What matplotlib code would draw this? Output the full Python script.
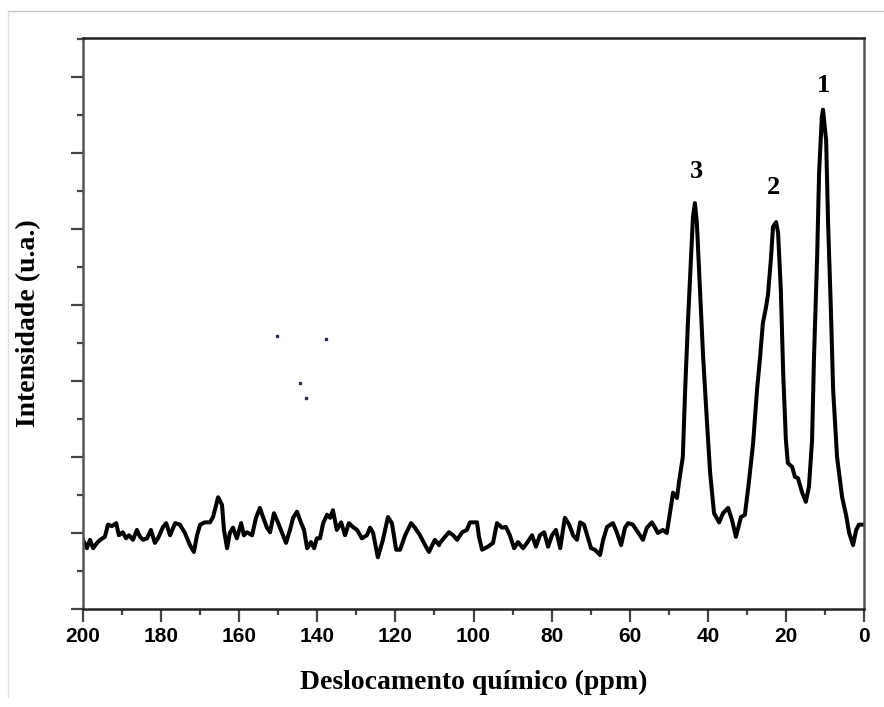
import numpy as np
import matplotlib
matplotlib.use("Agg")
import matplotlib.pyplot as plt
from matplotlib.lines import Line2D
from matplotlib.ticker import MultipleLocator

# chemical shift (ppm) and intensity (a.u.)
shift = [200.0, 199.0, 198.2, 197.4, 196.4, 195.6, 194.4, 193.6, 192.6, 191.5,
         190.8, 189.8, 189.0, 188.2, 187.2, 186.2, 185.4, 184.6, 183.6, 182.6,
         181.6, 180.8, 179.5, 178.7, 177.7, 176.4, 175.2, 173.9, 172.6, 171.6,
         170.8, 170.0, 168.8, 167.5, 166.7, 165.4, 164.4, 163.9, 163.1, 162.4,
         161.6, 160.6, 159.5, 158.8, 158.0, 156.7, 155.7, 154.7, 153.9, 152.9,
         152.1, 151.1, 150.1, 149.0, 148.0, 147.0, 146.2, 145.2, 144.2, 143.4,
         142.6, 141.6, 140.8, 140.1, 139.3, 138.5, 137.5, 136.7, 136.0, 135.0,
         133.9, 132.9, 131.9, 130.9, 129.8, 128.6, 127.3, 126.5, 125.7, 124.5,
         123.2, 121.9, 120.9, 119.8, 118.8, 117.5, 116.0, 115.0, 113.7, 112.4,
         111.4, 109.9, 108.8, 108.6, 107.3, 106.3, 105.2, 104.2, 102.9, 101.7,
         100.9, 99.1, 98.6, 97.8, 96.3, 95.0, 94.0, 92.7, 91.7, 90.7,
         89.6, 88.6, 87.3, 86.3, 85.0, 84.0, 83.0, 81.9, 80.9, 79.9,
         78.9, 78.1, 77.8, 76.6, 75.5, 74.5, 73.5, 72.7, 71.7, 70.9,
         69.9, 68.9, 67.6, 66.8, 65.8, 64.3, 63.3, 62.2, 61.2, 60.4,
         59.2, 57.9, 56.6, 55.6, 54.3, 53.5, 52.8, 51.5, 50.5,
         49.7, 48.9, 47.9, 47.4, 46.4, 45.8, 45.1, 44.3, 43.8, 43.3,
         42.8, 42.0, 41.2, 40.2, 39.4, 38.4, 37.1, 36.1, 34.8, 33.8,
         32.8, 31.5, 30.5, 29.5, 28.4, 27.4, 26.6, 25.9, 25.1, 24.6,
         23.8, 23.3, 22.5, 22.0, 21.3, 20.7, 20.0, 19.5, 18.4, 17.7,
         16.9, 15.9, 14.9, 14.1, 13.3, 12.8, 12.0, 11.5, 10.8, 10.5,
         9.7, 9.2, 8.5, 7.9, 6.9, 5.6, 4.6, 3.8, 2.8, 2.0,
         1.3, 0.0]
intensity = [-0.09, -0.20, -0.09, -0.20, -0.13, -0.09, -0.05, 0.11, 0.09, 0.13,
             -0.03, 0.01, -0.07, -0.03, -0.09, 0.04, -0.05, -0.09, -0.07, 0.04,
             -0.13, -0.07, 0.08, 0.13, -0.03, 0.13, 0.11, 0.00, -0.16, -0.25,
             -0.03, 0.11, 0.14, 0.14, 0.21, 0.47, 0.37, 0.04, -0.20, 0.00,
             0.07, -0.07, 0.13, -0.03, 0.01, -0.03, 0.20, 0.33, 0.21, 0.07,
             0.01, 0.26, 0.14, 0.00, -0.13, 0.04, 0.20, 0.28, 0.14, 0.04,
             -0.20, -0.12, -0.20, -0.07, -0.07, 0.13, 0.24, 0.20, 0.30, 0.04,
             0.14, -0.03, 0.13, 0.08, 0.04, -0.07, -0.03, 0.07, 0.00, -0.32,
             -0.09, 0.21, 0.13, -0.22, -0.22, -0.03, 0.13, 0.07, -0.03, -0.16,
             -0.25, -0.09, -0.16, -0.13, -0.05, 0.01, -0.03, -0.09, 0.01, 0.04,
             0.14, 0.14, -0.05, -0.22, -0.18, -0.13, 0.13, 0.07, 0.08, -0.03,
             -0.20, -0.12, -0.20, -0.13, -0.03, -0.18, -0.03, 0.01, -0.18, -0.03,
             0.04, -0.13, -0.20, 0.20, 0.11, -0.03, -0.09, 0.14, 0.11, -0.03,
             -0.20, -0.22, -0.29, -0.09, 0.08, 0.13, 0.01, -0.16, 0.07, 0.13,
             0.11, 0.01, -0.09, 0.07, 0.14, 0.07, 0.00, 0.04, 0.00,
             0.26, 0.53, 0.46, 0.66, 1.00, 1.88, 2.76, 3.63, 4.16, 4.34,
             4.08, 3.20, 2.32, 1.45, 0.79, 0.26, 0.14, 0.26, 0.33, 0.17,
             -0.05, 0.21, 0.24, 0.66, 1.18, 1.88, 2.32, 2.76, 2.97, 3.13,
             3.63, 4.03, 4.09, 3.95, 3.20, 2.11, 1.22, 0.92, 0.87, 0.74,
             0.72, 0.54, 0.41, 0.61, 1.22, 2.32, 3.63, 4.74, 5.47, 5.57,
             5.17, 4.08, 2.97, 1.88, 1.00, 0.47, 0.24, 0.00, -0.16, 0.04,
             0.11, 0.11]

# peak numbers and where they sit
peak_labels = ["1", "2", "3"]
peak_x = [10.25, 23.05, 43.0]
peak_y = [5.89, 4.55, 4.76]

# stray specks in the original image
speck_x = [150.3, 137.8, 144.4, 142.9]
speck_y = [2.59, 2.55, 1.97, 1.78]

fig = plt.figure(figsize=(8.84, 7.07), dpi=100)
ax = fig.add_axes([83 / 884, 98 / 707, 781 / 884, 571 / 707])

ax.plot(shift, intensity, color="black", lw=2.9, solid_joinstyle="round")
ax.plot(speck_x, speck_y, ls="none", marker="s", ms=1.6, color="#203060")

for lab, px, py in zip(peak_labels, peak_x, peak_y):
    ax.text(px, py, lab, ha="center", va="center", fontsize=19,
            fontweight="bold", family="Liberation Serif")

ax.set_xlim(200, 0)
ax.set_ylim(-1.0, 6.513)
ax.xaxis.set_major_locator(MultipleLocator(20))
ax.xaxis.set_minor_locator(MultipleLocator(10))
ax.yaxis.set_major_locator(MultipleLocator(1))
ax.yaxis.set_minor_locator(MultipleLocator(0.5))
ax.set_yticklabels([])

ax.tick_params(axis="both", which="major", direction="out", length=9,
               width=1.6, color="#444444")
ax.tick_params(axis="both", which="minor", direction="out", length=4.3,
               width=1.6, color="#444444")
ax.tick_params(axis="x", which="major", labelsize=15, pad=4)
for lbl in ax.get_xticklabels():
    lbl.set_fontweight("bold")
    lbl.set_family("Liberation Sans")

for side in ["left", "right"]:
    ax.spines[side].set_color("#555555")
    ax.spines[side].set_linewidth(1.8)
for side in ["top", "bottom"]:
    ax.spines[side].set_color("#222222")
    ax.spines[side].set_linewidth(1.8)

ax.set_xlabel("Deslocamento químico (ppm)", fontsize=20, fontweight="bold",
              family="Liberation Serif", labelpad=17)
ax.set_ylabel("Intensidade (u.a.)", fontsize=20, fontweight="bold",
              family="Liberation Serif", labelpad=18)

# light frame of the screenshot
fig.add_artist(Line2D([8 / 884, 1.0], [1 - 11 / 707, 1 - 11 / 707],
                      transform=fig.transFigure, color="#c8c8c8", lw=1))
fig.add_artist(Line2D([8 / 884, 8 / 884], [1 - 11 / 707, 1 - 697 / 707],
                      transform=fig.transFigure, color="#e0e0e0", lw=1))

fig.savefig("out.png", dpi=100)
